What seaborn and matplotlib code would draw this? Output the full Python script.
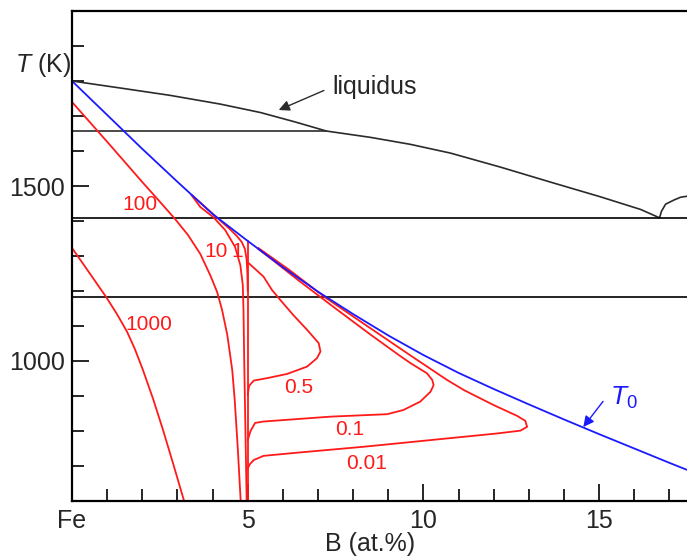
import matplotlib
matplotlib.use("Agg")
import matplotlib.pyplot as plt
from matplotlib.ticker import FixedLocator, MultipleLocator
import seaborn as sns

# ---- data (x = B at.%, T = K) ----
t0_x = [0, 1, 2, 3, 4, 5, 6, 7, 8, 9, 10, 11, 12, 13, 14, 15, 16, 17, 17.5]
t0_T = [1800, 1703, 1606, 1512, 1420, 1343, 1268, 1198, 1134, 1073, 1017, 966, 920, 876, 833, 791, 750, 709, 689]

liq_x = [0, 1.37, 2.79, 4.22, 5.36, 6.35, 7.24, 8.49, 9.63, 10.77, 12.19, 13.62, 15.04, 16.18, 16.72,
         16.77, 16.89, 17.13, 17.32, 17.52]
liq_T = [1800, 1780, 1759, 1734, 1710, 1683, 1657, 1639, 1619, 1594, 1554, 1511, 1469, 1433, 1409,
         1427, 1448, 1460, 1468, 1471]

# horizontal invariant lines
peri_x = [0, 7.24]
peri_T = [1657, 1657]
eut_x = [0, 17.5]
eut_T = [1409, 1409]
ga_x = [0, 17.5]
ga_T = [1182, 1182]

# cooling-rate curves
c1000_x = [0, 0.48, 0.97, 1.28, 1.57, 1.79, 2.02, 2.31, 2.59, 2.88, 3.19]
c1000_T = [1323, 1254, 1183, 1134, 1083, 1034, 974, 891, 803, 706, 600]

c100_x = [0, 1.03, 2.02, 2.51, 2.93, 3.30, 3.65, 3.93, 4.13, 4.27, 4.42, 4.56, 4.63, 4.72, 4.80]
c100_T = [1740, 1623, 1509, 1454, 1406, 1360, 1306, 1246, 1197, 1146, 1074, 974, 889, 746, 600]

c10_x = [3.4, 3.65, 4.02, 4.36, 4.64, 4.79, 4.86, 4.88, 4.90, 4.93, 4.97]
c10_T = [1474, 1440, 1411, 1374, 1326, 1274, 1217, 1146, 1003, 831, 600]

c1_x = [3.4, 3.8, 4.2, 4.5, 4.7, 4.83, 4.92, 4.97, 4.99, 5.0]
c1_T = [1475, 1439, 1403, 1376, 1356, 1340, 1320, 1290, 1250, 1200]

vert_x = [5.0, 5.0]
vert_T = [1343, 600]

c05_x = [5.0, 5.04, 5.17, 5.55, 6.12, 6.69, 6.97, 7.07, 7.02, 6.69, 6.30, 5.93, 5.69, 5.45, 4.98]
c05_T = [903, 929, 944, 951, 963, 984, 1008, 1027, 1051, 1089, 1131, 1174, 1203, 1241, 1284]

c01_x = [5.0, 5.08, 5.21, 5.44, 7.35, 8.97, 9.43, 9.91, 10.2, 10.29, 10.25, 10.1, 9.63, 9.3, 8.5,
         7.5, 6.5, 5.6, 5.3]
c01_T = [774, 800, 823, 827, 841, 848, 860, 884, 912, 931, 946, 965, 994, 1017, 1075,
         1150, 1226, 1297, 1320]

c001_x = [5.0, 5.06, 5.17, 5.45, 6.40, 8.3, 10.2, 12.1, 12.76, 12.95, 12.9, 12.67, 12.0, 11.15,
          10.67, 9.6, 8.5, 7.2, 6.2, 5.3]
c001_T = [693, 705, 717, 729, 738, 755, 774, 793, 801, 812, 829, 843, 874, 917,
          946, 1018, 1093, 1182, 1259, 1323]

rate_labels = ["1000", "100", "10", "1", "0.5", "0.1", "0.01"]
label_x = [2.19, 1.94, 4.10, 4.70, 6.44, 7.91, 8.38]
label_T = [1103, 1446, 1312, 1312, 924, 803, 708]

sns.set_style("ticks")
plt.rcParams['font.family'] = ['Liberation Sans', 'DejaVu Sans']
plt.rcParams['mathtext.fontset'] = 'custom'
plt.rcParams['mathtext.rm'] = 'Liberation Sans'
plt.rcParams['mathtext.it'] = 'Liberation Sans:italic'

fig = plt.figure(figsize=(6.87, 5.57), dpi=100)
ax = fig.add_axes([72 / 687, 56 / 557, 1 - 72 / 687, 490 / 557])

def draw(x, y, c, lw=1.3):
    sns.lineplot(x=x, y=y, sort=False, estimator=None, color=c, lw=lw, ax=ax)

dark = "#2b2b2b"
draw(liq_x, liq_T, dark, 1.2)
draw(peri_x, peri_T, dark, 1.2)
draw(eut_x, eut_T, "black", 1.2)
draw(ga_x, ga_T, "black", 1.2)

red = "#ff1a1a"
for cx, cT in [(c1000_x, c1000_T), (c100_x, c100_T), (c10_x, c10_T), (c1_x, c1_T),
               (vert_x, vert_T), (c05_x, c05_T), (c01_x, c01_T), (c001_x, c001_T)]:
    draw(cx, cT, red, 1.3)

draw(t0_x, t0_T, "#1a1aff", 1.3)

for s, lx, lT in zip(rate_labels, label_x, label_T):
    ax.text(lx, lT, s, color=red, fontsize=15, ha="center", va="center")

ax.text(7.41, 1763, "liquidus", fontsize=18, ha="left", va="baseline")
ax.annotate("", xy=(5.81, 1714), xytext=(7.24, 1776),
            arrowprops=dict(arrowstyle="-|>", color=dark, lw=1.0, mutation_scale=16))

ax.text(15.3, 874, "$T_0$", fontsize=19, color="#1a1aff", ha="left", va="baseline")
ax.annotate("", xy=(14.5, 805), xytext=(15.16, 891),
            arrowprops=dict(arrowstyle="-|>", color="#1a1aff", lw=1.0, mutation_scale=16))

ax.set_xlim(0, 17.5)
ax.set_ylim(600, 2000)
ax.xaxis.set_major_locator(FixedLocator([0, 5, 10, 15]))
ax.xaxis.set_minor_locator(MultipleLocator(1))
ax.yaxis.set_major_locator(FixedLocator([1000, 1500]))
ax.yaxis.set_minor_locator(MultipleLocator(100))
ax.set_xticklabels(["Fe", "5", "10", "15"])
ax.tick_params(which="major", direction="in", length=12.5, width=1.4, labelsize=18, pad=6)
ax.tick_params(which="minor", direction="in", length=8.5, width=1.4)
ax.tick_params(axis="y", which="both", pad=5)
ax.set_xlabel("")
ax.set_ylabel("")
for side in ["left", "bottom", "top"]:
    ax.spines[side].set_linewidth(1.6)
    ax.spines[side].set_color("black")
ax.spines["right"].set_visible(False)

fig.text(15 / 687, 1 - 65 / 557, "$T$ (K)", fontsize=18, ha="left", va="center")
fig.text(370 / 687, 6 / 557, "B (at.%)", fontsize=18, ha="center", va="baseline")

fig.savefig("out.png", dpi=100)
